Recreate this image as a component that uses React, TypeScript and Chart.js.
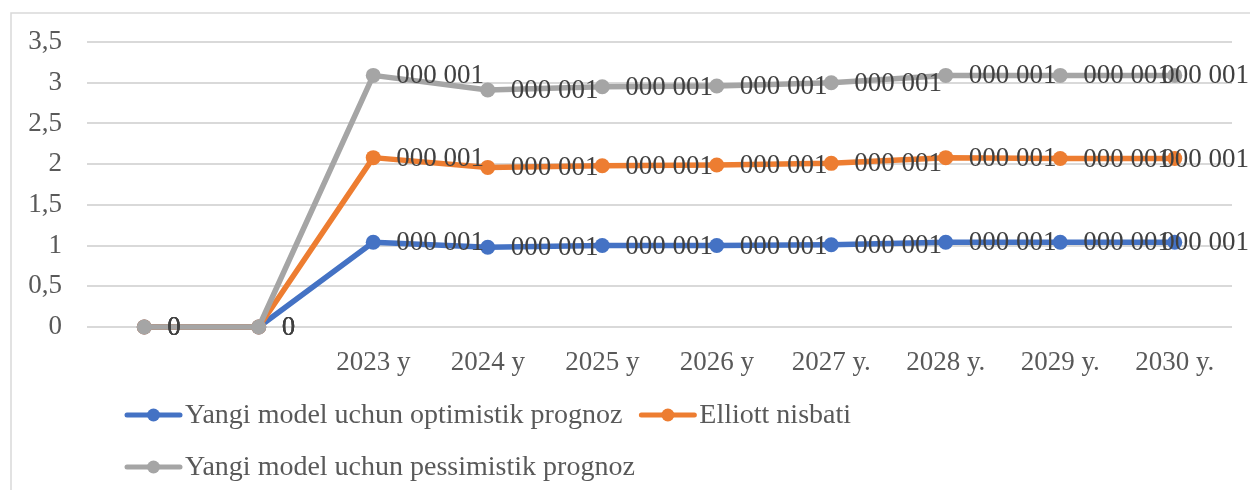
import React, { useEffect, useRef } from "react";
import { Chart, registerables } from "chart.js";

Chart.register(...registerables);

const categories = ["", "", "2023 y", "2024 y", "2025 y", "2026 y", "2027 y.", "2028 y.", "2029 y.", "2030 y."];
const optimistic = [0, 0, 1.04, 0.98, 1.0, 1.0, 1.01, 1.04, 1.04, 1.04];
const elliott = [0, 0, 2.08, 1.96, 1.98, 1.99, 2.01, 2.08, 2.07, 2.07];
const pessimistic = [0, 0, 3.09, 2.91, 2.95, 2.96, 3.0, 3.09, 3.09, 3.09];
const pointLabels = ["0", "0", "000 001", "000 001", "000 001", "000 001", "000 001", "000 001", "000 001", "000 001"];
const seriesNames = [
  "Yangi model uchun optimistik prognoz",
  "Elliott nisbati",
  "Yangi model uchun pessimistik prognoz",
];
const seriesColors = ["#4472C4", "#ED7D31", "#A5A5A5"];
const legendRows = [[0, 1], [2]];
const yMin = 0;
const yMax = 3.5;
const yStep = 0.5;

const FONT = "'Liberation Serif', 'Times New Roman', serif";
const TEXT = "#595959";
const LABEL = "#404040";
const GRID = "#d9d9d9";

const framePlugin = {
  id: "frame",
  beforeDraw(chart: any) {
    const ctx = chart.ctx;
    ctx.save();
    ctx.strokeStyle = GRID;
    ctx.lineWidth = 1.5;
    ctx.strokeRect(11, 13, chart.width + 20, chart.height + 20);
    ctx.restore();
  },
};

const dataLabelPlugin = {
  id: "dataLabels",
  afterDatasetsDraw(chart: any) {
    const ctx = chart.ctx;
    ctx.save();
    ctx.font = `27px ${FONT}`;
    ctx.fillStyle = LABEL;
    ctx.textAlign = "left";
    ctx.textBaseline = "middle";
    chart.data.datasets.forEach((ds: any, di: number) => {
      const meta = chart.getDatasetMeta(di);
      meta.data.forEach((el: any, i: number) => {
        const t = pointLabels[i];
        if (!t) return;
        const w = ctx.measureText(t).width;
        let x = el.x + 23;
        if (x + w > chart.width - 1) x = chart.width - 1 - w;
        ctx.fillText(t, x, el.y + 1);
      });
    });
    ctx.restore();
  },
};

const legendPlugin = {
  id: "customLegend",
  afterDraw(chart: any) {
    const ctx = chart.ctx;
    ctx.save();
    ctx.font = `28px ${FONT}`;
    ctx.textBaseline = "middle";
    ctx.textAlign = "left";
    const startX = 125;
    const rowY = [415, 467];
    const lineW = 57;
    const gap = 17;
    legendRows.forEach((row, r) => {
      let x = startX;
      const y = rowY[r];
      row.forEach((di) => {
        const ds = chart.data.datasets[di];
        const color = ds.borderColor;
        ctx.strokeStyle = color;
        ctx.lineWidth = 5;
        ctx.lineCap = "round";
        ctx.beginPath();
        ctx.moveTo(x + 2, y);
        ctx.lineTo(x + lineW - 2, y);
        ctx.stroke();
        ctx.fillStyle = color;
        ctx.beginPath();
        ctx.arc(x + lineW / 2, y, 6.5, 0, Math.PI * 2);
        ctx.fill();
        ctx.fillStyle = TEXT;
        const tx = x + lineW + 3;
        ctx.fillText(ds.label, tx, y + 1);
        x = tx + ctx.measureText(ds.label).width + gap;
      });
    });
    ctx.restore();
  },
};

export default function App() {
  const ref = useRef<HTMLCanvasElement | null>(null);
  useEffect(() => {
    if (!ref.current) return;
    const seriesData = [optimistic, elliott, pessimistic];
    const orders = [2, 1, 0];
    const chart = new Chart(ref.current, {
      type: "line",
      data: {
        labels: categories,
        datasets: seriesData.map((d, i) => ({
          label: seriesNames[i],
          data: d,
          borderColor: seriesColors[i],
          backgroundColor: seriesColors[i],
          pointBackgroundColor: seriesColors[i],
          pointBorderColor: seriesColors[i],
          pointBorderWidth: 0,
          pointRadius: 7.5,
          borderWidth: 5.5,
          borderJoinStyle: "round" as const,
          borderCapStyle: "round" as const,
          tension: 0,
          fill: false,
          clip: false as any,
          order: orders[i],
        })),
      },
      options: {
        responsive: false,
        animation: false,
        layout: { padding: { left: 0, top: 42, right: 18, bottom: 0 } },
        plugins: {
          legend: { display: false },
          tooltip: { enabled: false },
          title: { display: false },
        },
        scales: {
          x: {
            offset: true,
            grid: { display: false },
            border: { display: false },
            ticks: {
              autoSkip: false,
              maxRotation: 0,
              padding: 12,
              color: TEXT,
              font: { family: FONT, size: 27 },
            },
            afterFit(scale: any) {
              scale.height = 163;
            },
          },
          y: {
            min: yMin,
            max: yMax,
            grid: { color: GRID, lineWidth: 2, drawTicks: false },
            border: { display: false },
            ticks: {
              stepSize: yStep,
              padding: 25,
              color: TEXT,
              font: { family: FONT, size: 27 },
              callback: (v: any) => String(v).replace(".", ","),
            },
            afterFit(scale: any) {
              scale.width = 87;
            },
          },
        },
      },
      plugins: [framePlugin, dataLabelPlugin, legendPlugin],
    });
    return () => chart.destroy();
  }, []);
  return (
    <div style={{ position: "fixed", left: 0, top: 0, width: 1250, height: 490, background: "#fff" }}>
      <canvas ref={ref} width={1250} height={490} />
    </div>
  );
}
